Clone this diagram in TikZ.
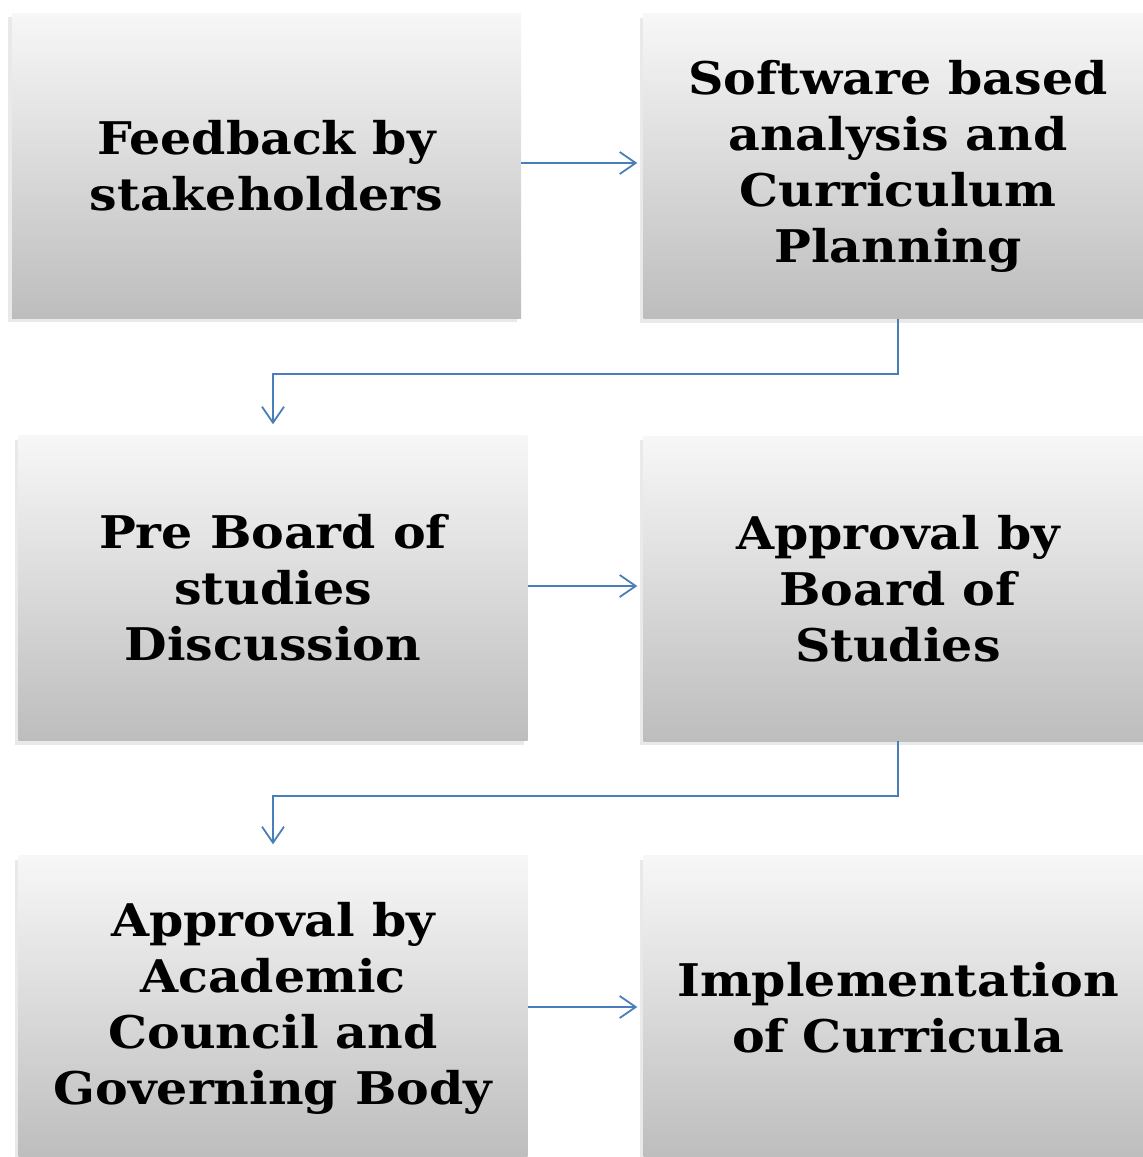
\documentclass[tikz,border=0pt]{standalone}
\usepackage{fontspec}
\usetikzlibrary{arrows.meta,shadows}
\newfontfamily\stagefont{DejaVu Serif}[FakeStretch=1.09]
\definecolor{flowblue}{HTML}{4A7EBB}
\definecolor{gradtop}{HTML}{F7F7F7}
\definecolor{gradmid}{HTML}{DDDDDD}
\definecolor{gradbot}{HTML}{BDBDBD}
\definecolor{shadowgray}{HTML}{E9E9E9}
\begin{document}
\begin{tikzpicture}[x=1pt,y=-1pt,
  stagebox/.style={rectangle, minimum width=509pt, minimum height=305pt,
    inner sep=0pt, align=center,
    top color=gradtop, middle color=gradmid, bottom color=gradbot,
    drop shadow={shadow xshift=-4pt, shadow yshift=-4pt, fill=shadowgray, opacity=1},
    font=\stagefont\bfseries\fontsize{45}{56}\selectfont},
  flow/.style={draw=flowblue, line width=1.8pt,
    -{Straight Barb[length=16pt,width=22pt,line width=1.8pt]}}
]
\useasboundingbox (0,0) rectangle (1143,1157);
\clip (0,0) rectangle (1143,1157);

% six process stages, two per row
\node[stagebox] (fb)   at (266.5,165.5) {Feedback by\\stakeholders};
\node[stagebox] (sw)   at (898,166)     {Software based\\analysis and\\Curriculum\\Planning};
\node[stagebox] (pre)  at (273,588)     {Pre Board of\\studies\\Discussion};
\node[stagebox] (bos)  at (898,588.5)   {Approval by\\Board of\\Studies};
\node[stagebox] (acad) at (273,1008)    {Approval by\\Academic\\Council and\\Governing Body};
\node[stagebox] (impl) at (898,1008)    {Implementation\\of Curricula};

% bend points of the row-to-row connectors
\coordinate (m1) at (585,374);
\coordinate (m2) at (585,796);

% connectors
\draw[flow, shorten >=6pt] (fb.east |- 0,163) -- (sw.west |- 0,163);
\draw[flow, shorten >=11pt] (sw.south) |- (m1) -| (pre.north);
\draw[flow, shorten >=6pt] (pre.east |- 0,586) -- (bos.west |- 0,586);
\draw[flow, shorten >=11pt] (bos.south) |- (m2) -| (acad.north);
\draw[flow, shorten >=6pt] (acad.east |- 0,1007) -- (impl.west |- 0,1007);
\end{tikzpicture}
\end{document}
